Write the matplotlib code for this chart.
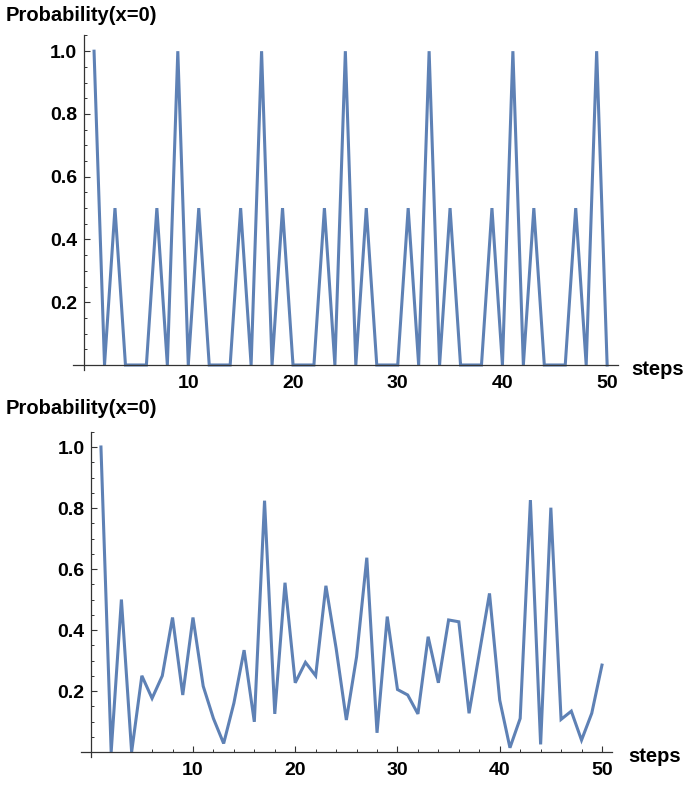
import matplotlib
matplotlib.use("Agg")
import matplotlib.pyplot as plt
from matplotlib.ticker import MultipleLocator, FixedLocator

plt.rcParams['font.family'] = ['Liberation Sans', 'DejaVu Sans']
plt.rcParams['font.weight'] = 'bold'

# data
steps = list(range(1, 51))
# top: periodic pattern (period 8)
p_top = [1.0, 0, 0.5, 0, 0, 0, 0.5, 0,
         1.0, 0, 0.5, 0, 0, 0, 0.5, 0,
         1.0, 0, 0.5, 0, 0, 0, 0.5, 0,
         1.0, 0, 0.5, 0, 0, 0, 0.5, 0,
         1.0, 0, 0.5, 0, 0, 0, 0.5, 0,
         1.0, 0, 0.5, 0, 0, 0, 0.5, 0,
         1.0, 0]
# bottom: irregular walk
p_bottom = [1.0, 0.0, 0.5, 0.0, 0.25, 0.176, 0.25, 0.441, 0.187, 0.441,
            0.216, 0.110, 0.028, 0.16, 0.334, 0.099, 0.824, 0.125, 0.555, 0.227,
            0.294, 0.25, 0.545, 0.34, 0.105, 0.312, 0.637, 0.063, 0.444, 0.205,
            0.187, 0.125, 0.378, 0.227, 0.433, 0.427, 0.127, 0.323, 0.52, 0.17,
            0.014, 0.110, 0.826, 0.025, 0.801, 0.107, 0.134, 0.039, 0.127, 0.285]

y_major = [0.2, 0.4, 0.6, 0.8, 1.0]
x_major = [10, 20, 30, 40, 50]
line_color = '#5E81B5'
W, H = 685, 789

fig = plt.figure(figsize=(W / 100, H / 100), dpi=100)


def make_axes(rect_px, ys, title_xy, steps_xy):
    left, right, top, bottom = rect_px
    ax = fig.add_axes([left / W, (H - bottom) / H, (right - left) / W, (bottom - top) / H])
    ax.plot(steps, ys, color=line_color, lw=2.2, solid_joinstyle='miter', clip_on=False)
    ax.set_xlim(-1, 51)
    ax.set_ylim(-0.015, 1.05)
    ax.spines['left'].set_position(('data', 0))
    ax.spines['bottom'].set_position(('data', 0))
    ax.spines['right'].set_visible(False)
    ax.spines['top'].set_visible(False)
    for s in ('left', 'bottom'):
        ax.spines[s].set_color('#333333')
        ax.spines[s].set_linewidth(0.9)
    ax.xaxis.set_major_locator(FixedLocator(x_major))
    ax.xaxis.set_minor_locator(MultipleLocator(2))
    ax.yaxis.set_major_locator(FixedLocator(y_major))
    ax.yaxis.set_minor_locator(MultipleLocator(0.05))
    ax.set_yticklabels(['%.1f' % v for v in y_major])
    ax.tick_params(which='major', direction='in', length=4.5, width=0.8, color='#333333',
                   labelsize=14)
    ax.tick_params(which='minor', direction='in', length=2.5, width=0.7, color='#333333')
    ax.tick_params(axis='x', which='major', pad=7)
    ax.tick_params(axis='y', which='major', pad=4.5)
    ax.patch.set_alpha(0)
    fig.text(title_xy[0] / W, 1 - title_xy[1] / H, 'Probability(x=0)', fontsize=14.5,
             fontweight='bold', ha='left', va='baseline')
    fig.text(steps_xy[0] / W, 1 - steps_xy[1] / H, 'steps', fontsize=14.5,
             fontweight='bold', ha='left', va='baseline')
    return ax


make_axes((73.1, 617.6, 35.5, 369.7), p_top, (6, 20.7), (631, 375))
make_axes((80.5, 612.2, 431.75, 756.6), p_bottom, (6, 414), (628, 761.5))

fig.savefig('out.png', dpi=100)
